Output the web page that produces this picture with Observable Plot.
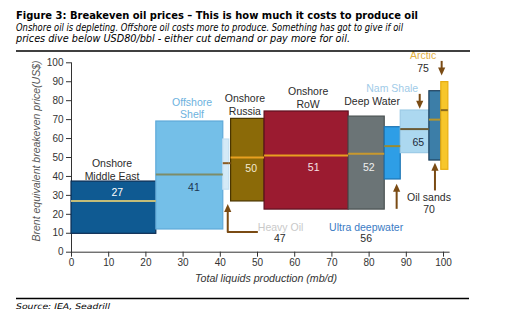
<!DOCTYPE html>
<html>
<head>
<meta charset="utf-8">
<script src="https://cdn.jsdelivr.net/npm/d3@7"></script>
<script src="https://cdn.jsdelivr.net/npm/@observablehq/plot@0.6"></script>
<style>
  html, body { margin: 0; padding: 0; background: #fff; }
  #wrap { position: relative; width: 521px; height: 329px; overflow: hidden; background: #fff; }
  #wrap > svg { position: absolute; left: 0; }
</style>
</head>
<body>
<div id="wrap"></div>
<script>
// ---- data ----
const categories = ["Onshore Middle East", "Offshore Shelf", "Heavy Oil", "Onshore Russia", "Onshore RoW",
                    "Deep Water", "Ultra deepwater", "Nam Shale", "Oil sands", "Arctic"];
const productionStart = [0, 22.8, 40.8, 42.9, 51.9, 74.5, 84.2, 88.5, 96.2, 99.4];
const productionEnd   = [22.8, 40.8, 42.4, 51.9, 74.5, 84.2, 88.5, 96.2, 99.4, 101.3];
const priceLow  = [9.7, 12, 33, 26.8, 22.5, 22.5, 38.4, 52.3, 48.4, 43.5];
const priceHigh = [37.3, 69, 59.5, 70.4, 74.3, 71.6, 66, 74.8, 85, 89.8];
const breakeven = [27, 41, 47, 50, 51, 52, 56, 65, 70, 75];
const xTicks = [0, 10, 20, 30, 40, 50, 60, 70, 80, 90, 100];
const yTicks = [0, 10, 20, 30, 40, 50, 60, 70, 80, 90, 100];

// ---- styles ----
const fills   = ["#0f5a92", "#74bfe8", "#d4eaf7", "#8b6a08", "#9b1b30", "#6b7476", "#2e9ee6", "#acd8f0", "#3c7ea8", "#f7c62b"];
const strokes = ["#0b2c52", "#5ea9d9", "#c4e0f2", "#4a3500", "#5e1020", "#4a5252", "#1c74b4", "#9ccbe6", "#1c3f5c", "#e8ad10"];
const medianColors = ["#c3bd78", "#7d8c68", "#8a5a20", "#e8a020", "#e8a020", "#c8982e", "#9a8a30", "#6a5a34", "#b8962a", "#8a6a20"];

// annotations (layout)
const textLabels = [
  {t: "Onshore", x: 10.9, y: 47, c: "#2b2b2b"}, {t: "Middle East", x: 10.9, y: 40, c: "#2b2b2b"},
  {t: "Offshore", x: 32.4, y: 79.2, c: "#6cb2de"}, {t: "Shelf", x: 32.4, y: 72.5, c: "#6cb2de"},
  {t: "Onshore", x: 46.6, y: 81, c: "#2b2b2b"}, {t: "Russia", x: 46.6, y: 74.3, c: "#2b2b2b"},
  {t: "Onshore", x: 63.6, y: 84.8, c: "#2b2b2b"}, {t: "RoW", x: 63.6, y: 78.1, c: "#2b2b2b"},
  {t: "Deep Water", x: 80.8, y: 79.6, c: "#2b2b2b"},
  {t: "Nam Shale", x: 86.2, y: 86.3, c: "#9fcbe8"},
  {t: "Arctic", x: 94.5, y: 103.9, c: "#e3b040"}, {t: "75", x: 94.5, y: 96.8, c: "#2b2b2b"},
  {t: "Oil sands", x: 96.1, y: 29, c: "#2b2b2b"}, {t: "70", x: 96.1, y: 22.4, c: "#2b2b2b"},
  {t: "Ultra deepwater", x: 79.2, y: 13.2, c: "#3b7bc4"}, {t: "56", x: 79.2, y: 7.1, c: "#2b2b2b"},
  {t: "Heavy Oil", x: 56.2, y: 13.2, c: "#c9c9c9"}, {t: "47", x: 56, y: 7.1, c: "#2b2b2b"}
];
const valueLabels = [
  {i: 0, x: 12.3, y: 31.4, c: "#ffffff"},
  {i: 1, x: 32.9, y: 34.3, c: "#1c3550"},
  {i: 3, x: 48.3, y: 44, c: "#f3ead2"},
  {i: 4, x: 65.1, y: 44.9, c: "#f6e2e4"},
  {i: 5, x: 79.9, y: 44.9, c: "#f0f0f0"},
  {i: 7, x: 93.2, y: 57.8, c: "#1c2a3a"}
];
const arrowsDown = [{x: 99.5, y1: 101, y2: 93.3}, {x: 93.6, y1: 83.6, y2: 75.7}];
const arrowsUp = [{x: 97.7, y1: 32.6, y2: 47.2}, {x: 87.4, y1: 22.9, y2: 36.1}];
const heavyElbow = [{x: 49.9, y: 10.6}, {x: 42, y: 10.6}, {x: 42, y: 23}];
const heavyTip = [{x: 42, y: 25.5}];

const table = categories.map((name, i) => ({
  name, x1: productionStart[i], x2: productionEnd[i], y1: priceLow[i], y2: priceHigh[i],
  median: breakeven[i], fill: fills[i], stroke: strokes[i], mc: medianColors[i]
}));

const arrowColor = "#7a4b14";
const upTip = {draw(ctx) { ctx.moveTo(0, 0); ctx.lineTo(3.6, 8); ctx.lineTo(-3.6, 8); ctx.closePath(); }};
const downTip = {draw(ctx) { ctx.moveTo(0, 0); ctx.lineTo(3.6, -8); ctx.lineTo(-3.6, -8); ctx.closePath(); }};

const font = "'Liberation Sans', Arial, sans-serif";

const chart = Plot.plot({
  width: 521, height: 245,
  marginLeft: 71, marginRight: 72.4, marginTop: 11.3, marginBottom: 44.3,
  style: {fontFamily: font, fontSize: "10px", color: "#333", background: "transparent", overflow: "visible"},
  x: {domain: [0, 101.5], ticks: xTicks, tickSize: 5, tickPadding: 2, line: true, label: null},
  y: {domain: [0, 100], ticks: yTicks, tickSize: 5, tickPadding: 3, line: true, label: null},
  color: {type: "identity"},
  marks: [
    Plot.rect(table, {x1: "x1", x2: "x2", y1: "y1", y2: "y2", fill: "fill", stroke: "stroke", strokeWidth: 1.2}),
    Plot.ruleY(table, {y: "median", x1: "x1", x2: "x2", stroke: "mc", strokeWidth: 2}),
    Plot.ruleY([47], {x1: 42.4, x2: 42.9, stroke: "#8a5a20", strokeWidth: 2}),
    Plot.text(valueLabels, {x: "x", y: "y", text: d => String(breakeven[d.i]), fill: "c", fontSize: 10.5}),
    Plot.text(textLabels, {x: "x", y: "y", text: "t", fill: "c", fontSize: 10.5}),
    Plot.link(arrowsDown, {x1: "x", x2: "x", y1: "y1", y2: d => d.y2 + 2, stroke: arrowColor, strokeWidth: 2}),
    Plot.link(arrowsUp, {x1: "x", x2: "x", y1: "y1", y2: d => d.y2 - 2, stroke: arrowColor, strokeWidth: 2}),
    Plot.line(heavyElbow, {x: "x", y: "y", stroke: arrowColor, strokeWidth: 2}),
    Plot.dot(arrowsDown, {x: "x", y: "y2", symbol: downTip, fill: arrowColor, stroke: "none", r: 4}),
    Plot.dot(arrowsUp, {x: "x", y: "y2", symbol: upTip, fill: arrowColor, stroke: "none", r: 4}),
    Plot.dot(heavyTip, {x: "x", y: "y", symbol: upTip, fill: arrowColor, stroke: "none", r: 4})
  ]
});
chart.style.top = "51px";
const wrap = document.getElementById("wrap");
wrap.appendChild(chart);

// overlay texts and rules
const ns = "http://www.w3.org/2000/svg";
const ov = document.createElementNS(ns, "svg");
ov.setAttribute("width", 521); ov.setAttribute("height", 329);
ov.style.top = "0px"; ov.style.pointerEvents = "none";
function txt(s, x, y, opts) {
  const t = document.createElementNS(ns, "text");
  t.textContent = s;
  t.setAttribute("x", x); t.setAttribute("y", y);
  t.setAttribute("font-family", opts.family || font);
  t.setAttribute("font-size", opts.size);
  if (opts.weight) t.setAttribute("font-weight", opts.weight);
  if (opts.italic) t.setAttribute("font-style", "italic");
  t.setAttribute("fill", opts.fill || "#000");
  if (opts.len) { t.setAttribute("textLength", opts.len); t.setAttribute("lengthAdjust", "spacingAndGlyphs"); }
  if (opts.anchor) t.setAttribute("text-anchor", opts.anchor);
  if (opts.transform) t.setAttribute("transform", opts.transform);
  ov.appendChild(t);
  return t;
}
function rule(x1, x2, y, w) {
  const l = document.createElementNS(ns, "line");
  l.setAttribute("x1", x1); l.setAttribute("x2", x2); l.setAttribute("y1", y); l.setAttribute("y2", y);
  l.setAttribute("stroke", "#000"); l.setAttribute("stroke-width", w);
  ov.appendChild(l);
}
const headFont = "'DejaVu Sans', Verdana, sans-serif";
txt("Figure 3: Breakeven oil prices \u2013 This is how much it costs to produce oil", 16, 19, {size: 11, weight: "bold", len: 402, family: headFont});
txt("Onshore oil is depleting. Offshore oil costs more to produce. Something has got to give if oil", 16, 30.5, {size: 9.6, italic: true, len: 387, family: headFont});
txt("prices dive below USD80/bbl - either cut demand or pay more for oil.", 16, 41.5, {size: 9.6, italic: true, len: 334, family: headFont});
rule(16, 470, 51, 1.6);
rule(16, 469, 298.5, 1.3);
txt("Source: IEA, Seadrill", 16, 308.5, {size: 7.8, italic: true, len: 94, family: headFont});
txt("Total liquids production (mb/d)", 266, 281.5, {size: 10, italic: true, anchor: "middle", fill: "#333", len: 142});
txt("Brent equivalent breakeven price(US$)", 0, 0, {size: 10, italic: true, anchor: "middle", fill: "#555", len: 181, transform: "translate(39.5,151) rotate(-90)"});
wrap.appendChild(ov);
</script>
</body>
</html>
